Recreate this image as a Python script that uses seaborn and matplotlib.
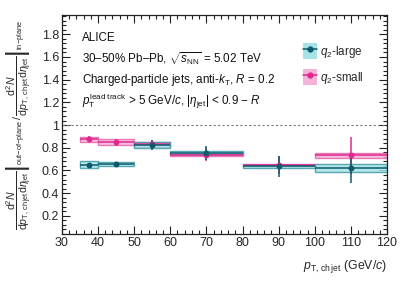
import numpy as np
import pandas as pd
import matplotlib
matplotlib.use("Agg")
import matplotlib.pyplot as plt
import seaborn as sns
from matplotlib.lines import Line2D
from matplotlib.patches import Patch
from matplotlib.ticker import MultipleLocator, FixedLocator, FixedFormatter

# ---- data ----
bin_lo = [35, 40, 50, 60, 80, 100]
bin_hi = [40, 50, 60, 80, 100, 120]
large_val = [0.650, 0.655, 0.825, 0.758, 0.635, 0.620]
large_stat = [0.018, 0.018, 0.045, 0.062, 0.095, 0.130]
large_sys = [0.030, 0.018, 0.026, 0.012, 0.012, 0.035]
small_val = [0.875, 0.850, 0.830, 0.740, 0.645, 0.732]
small_stat = [0.025, 0.030, 0.040, 0.055, 0.080, 0.160]
small_sys = [0.020, 0.026, 0.022, 0.012, 0.010, 0.026]

yticks = [0.2, 0.4, 0.6, 0.8, 1.0, 1.2, 1.4, 1.6, 1.8]
ytick_labels = ["0.2", "0.4", "0.6", "0.8", "1", "1.2", "1.4", "1.6", "1.8"]

sns.set_theme(style="ticks")
plt.rcParams['font.family'] = ['Liberation Sans', 'DejaVu Sans']
plt.rcParams['mathtext.fontset'] = 'custom'
plt.rcParams['mathtext.rm'] = 'Liberation Sans'
plt.rcParams['mathtext.it'] = 'Liberation Sans:italic'
plt.rcParams['mathtext.bf'] = 'Liberation Sans:bold'
plt.rcParams['mathtext.sf'] = 'Liberation Sans'

fig = plt.figure(figsize=(4.07, 2.94), dpi=100)
ax = fig.add_axes([0.152, 0.204, 0.799, 0.745])

lo = np.array(bin_lo, float)
hi = np.array(bin_hi, float)
cen = (lo + hi) / 2
wid = hi - lo

series = [
    ("$q_2$-small", small_val, small_stat, small_sys, "#e0288e", "#f6b3d8", "#e466ad"),
    ("$q_2$-large", large_val, large_stat, large_sys, "#0d5a6c", "#a6e3e6", "#3f9aa4"),
]

handles = {}
for name, val, stat, sys_, c, fill, edge in series:
    val = np.array(val); stat = np.array(stat); sys_ = np.array(sys_)
    ax.bar(lo, 2 * sys_, width=wid, bottom=val - sys_, align='edge',
           color=fill, edgecolor=edge, linewidth=1.0, alpha=0.85, zorder=2)
    ax.errorbar(cen, val, xerr=wid / 2, yerr=stat, fmt='none', ecolor=c,
                elinewidth=1.1, capsize=0, zorder=3)
    df = pd.DataFrame({"x": cen, "y": val})
    sns.scatterplot(data=df, x="x", y="y", ax=ax, color=c, s=18,
                    edgecolor=c, linewidth=0, zorder=4, legend=False)
    handles[name] = (Patch(facecolor=fill, edgecolor='none'),
                     Line2D([], [], color=c, marker='o', markersize=3.5, lw=1.1))

ax.axhline(1.0, color='#777777', ls=(0, (2, 2)), lw=0.8, zorder=1)

ax.set_xlim(30, 120)
ax.set_ylim(0.04, 1.97)
ax.xaxis.set_major_locator(MultipleLocator(10))
ax.xaxis.set_minor_locator(MultipleLocator(2))
ax.yaxis.set_major_locator(FixedLocator(yticks))
ax.yaxis.set_major_formatter(FixedFormatter(ytick_labels))
ax.yaxis.set_minor_locator(MultipleLocator(0.04))
ax.tick_params(which='both', direction='in', top=True, right=True,
               color='#222222', labelsize=9, pad=2)
ax.tick_params(which='major', length=6, width=0.8)
ax.tick_params(which='minor', length=3, width=0.8)
for s in ax.spines.values():
    s.set_linewidth(0.9)
    s.set_color('#222222')

ax.set_xlabel(r"$p_{\mathrm{T,\,ch\,jet}}$ (GeV/$c$)", fontsize=8.8, ha='right')
ax.xaxis.set_label_coords(1.0, -0.11)

ylab = (r"$\left.\dfrac{\mathrm{d}^2N}{\mathrm{d}p_{\mathrm{T,\,ch\,jet}}\mathrm{d}\eta_{\mathrm{jet}}}\right|_{\mathrm{out\!-\!of\!-\!plane}}"
        r"\,/\,\left.\dfrac{\mathrm{d}^2N}{\mathrm{d}p_{\mathrm{T,\,ch\,jet}}\mathrm{d}\eta_{\mathrm{jet}}}\right|_{\mathrm{in\!-\!plane}}$")
ax.set_ylabel(ylab, fontsize=7.6)
ax.yaxis.set_label_coords(-0.085, 0.5)

texts = [
    "ALICE",
    r"30–50% Pb–Pb, $\sqrt{s_{\mathrm{NN}}}$ = 5.02 TeV",
    r"Charged-particle jets, anti-$k_{\mathrm{T}}$, $R$ = 0.2",
    r"$p_{\mathrm{T}}^{\mathrm{lead\ track}}$ > 5 GeV/$c$, $|\eta_{\mathrm{jet}}|$ < 0.9 − $R$",
]
ys = [38, 59, 80, 101]
for t, yp in zip(texts, ys):
    fig.text(82 / 407, 1 - yp / 294, t, fontsize=8.4, ha='left', va='center', color='#111111')

leg = ax.legend([handles["$q_2$-large"], handles["$q_2$-small"]],
                ["$q_2$-large", "$q_2$-small"],
                loc='upper left', bbox_to_anchor=(0.715, 0.91), frameon=False,
                fontsize=8.4, handlelength=1.2, handleheight=1.8, labelspacing=0.75,
                handletextpad=0.3, borderpad=0.2)

fig.savefig("out.png", dpi=100)
